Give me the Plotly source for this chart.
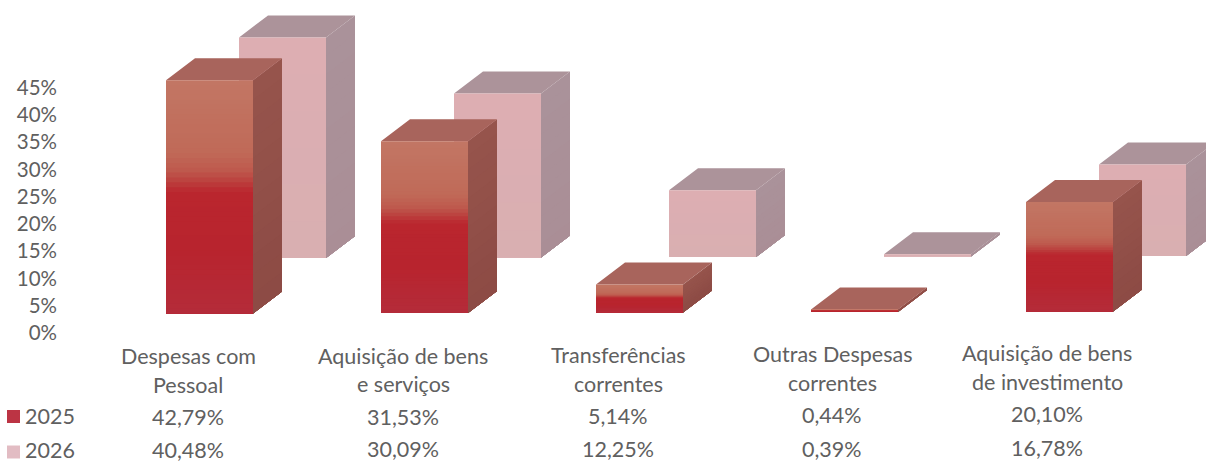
import plotly.graph_objects as go

# ---- data ----
categories = [["Despesas com", "Pessoal"], ["Aquisição de bens", "e serviços"],
              ["Transferências", "correntes"], ["Outras Despesas", "correntes"],
              ["Aquisição de bens", "de investimento"]]
values_2025 = [42.79, 31.53, 5.14, 0.44, 20.10]
values_2026 = [40.48, 30.09, 12.25, 0.39, 16.78]
y_ticks = [0, 5, 10, 15, 20, 25, 30, 35, 40, 45]

# ---- geometry (axis units) ----
W, H = 1206, 464
PX_X = 215.0            # px per category
PX_Y = 5.45             # px per percentage point
Y0_PX = 333.0           # px of 0%
X0_PX = 166.0           # px of x=0
BAR_W = 87 / PX_X
DEPTH_X = 29 / PX_X
DEPTH_Y = 22 / PX_Y
FLOOR_2025 = (Y0_PX - 313.5) / PX_Y
FLOOR_2026 = (Y0_PX - 258.0) / PX_Y
OFFSET_2026 = 73 / PX_X
TILT = 0.5 / PX_Y       # scan tilt, per category

RED_STOPS = [(0, (194, 118, 100)), (0.30, (192, 106, 88)), (0.38, (190, 88, 76)),
             (0.47, (186, 38, 46)), (0.72, (184, 36, 46)), (1, (180, 44, 58))]
PINK_STOPS = [(0, (221, 174, 178)), (1, (216, 175, 177))]


def mix(stops, t):
    for (a, ca), (b, cb) in zip(stops, stops[1:]):
        if a <= t <= b:
            f = (t - a) / (b - a)
            return tuple(ca[k] + (cb[k] - ca[k]) * f for k in range(3))
    return stops[-1][1]


def rgb(c):
    return "rgb(%d,%d,%d)" % tuple(round(v) for v in c)


def polys(rings):
    xs, ys = [], []
    for r in rings:
        xs += [p[0] for p in r] + [r[0][0], None]
        ys += [p[1] for p in r] + [r[0][1], None]
    return xs, ys


fig = go.Figure()


def add_poly(rings, color):
    xs, ys = polys(rings)
    fig.add_trace(go.Scatter(x=xs, y=ys, mode="lines", fill="toself", fillcolor=color,
                             line=dict(width=0), hoverinfo="skip", showlegend=False))


def add_series(values, floor, xoff, stops, levels, side_top, side_bot, top_col):
    boxes = []
    for i, v in enumerate(values):
        l = i + xoff
        r = l + BAR_W
        b = floor + TILT * i
        boxes.append((l, r, b, b + v))
    # side face, graded top to bottom
    n_side = 12
    for k in range(n_side):
        t = k / n_side
        col = tuple(side_top[c] + (side_bot[c] - side_top[c]) * t for c in range(3))
        rings = []
        for l, r, b, tp in boxes:
            y = tp + (b - tp) * t
            rings.append([(r, b), (r + DEPTH_X, b + DEPTH_Y), (r + DEPTH_X, y + DEPTH_Y), (r, y)])
        add_poly(rings, rgb(col))
    # top face
    add_poly([[(l, tp), (r, tp), (r + DEPTH_X, tp + DEPTH_Y), (l + DEPTH_X, tp + DEPTH_Y)]
              for l, r, b, tp in boxes], rgb(top_col))
    # front face, graded: each level paints from its height down to the floor
    for k in range(levels):
        t = k / levels
        rings = []
        for l, r, b, tp in boxes:
            y = tp + (b - tp) * t
            rings.append([(l, b), (r, b), (r, y), (l, y)])
        add_poly(rings, rgb(mix(stops, t)))


add_series(values_2026, FLOOR_2026, OFFSET_2026, PINK_STOPS, 6,
           (170, 146, 154), (170, 142, 150), (172, 147, 154))
add_series(values_2025, FLOOR_2025, 0, RED_STOPS, 48,
           (150, 84, 76), (140, 74, 68), (168, 100, 92))

# legend keys
TXT = "#606060"
FONT = "Lato"
FS = 21.5
key_px = [(13.5, 416.5, "rgb(188,52,68)"), (13.5, 452, "rgb(226,188,195)")]
for px, py, col in key_px:
    fig.add_trace(go.Scatter(x=[(px - X0_PX) / PX_X], y=[(Y0_PX - py) / PX_Y], mode="markers",
                             marker=dict(symbol="square", size=13, color=col, line=dict(width=0)),
                             hoverinfo="skip", showlegend=False))

ann = []


def text(px, py, s):
    ann.append(dict(x=px / W, y=1 - py / H, xref="paper", yref="paper", text=s, showarrow=False,
                    xanchor="center", yanchor="middle",
                    font=dict(family=FONT, size=FS, color=TXT)))


label_cx = [188, 403, 618, 832, 1047]
row_tilt = [0, -0.5, -1, -2, -3]
for i, lab in enumerate(categories):
    cx, d = label_cx[i], row_tilt[i]
    text(cx, 356 + d, lab[0])
    text(cx, 384.5 + d, lab[1])
    text(cx, 417 + d, f"{values_2025[i]:.2f}%".replace(".", ","))
    text(cx, 449.5 + d / 2, f"{values_2026[i]:.2f}%".replace(".", ","))
text(49.5, 416, "2025")
text(49.5, 449.5, "2026")

fig.update_layout(
    width=W, height=H, margin=dict(l=0, r=0, t=0, b=0), autosize=False,
    paper_bgcolor="white", plot_bgcolor="white", showlegend=False, annotations=ann,
    xaxis=dict(range=[-X0_PX / PX_X, (W - X0_PX) / PX_X], visible=False, fixedrange=True),
    yaxis=dict(range=[(Y0_PX - H) / PX_Y, Y0_PX / PX_Y], anchor="free", position=57 / W,
               tickmode="array", tickvals=y_ticks, ticktext=[f"{t}%" for t in y_ticks],
               showgrid=False, zeroline=False, showline=False, ticks="", fixedrange=True,
               tickfont=dict(family=FONT, size=20.5, color=TXT)),
)
fig.write_html("out.html", config={"displayModeBar": False},
               post_script="document.body.style.margin='0';document.body.style.overflow='hidden';")
